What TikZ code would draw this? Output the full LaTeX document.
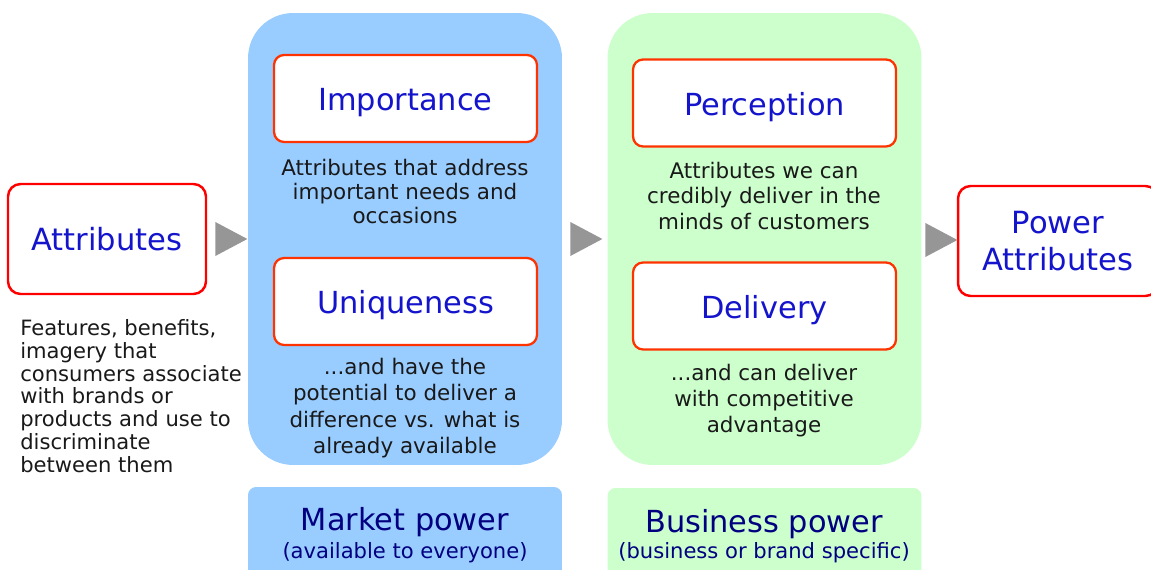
\documentclass[tikz,border=0pt]{standalone}
\usepackage{fontspec}
\setmainfont{DejaVu Sans}
\usetikzlibrary{shapes.geometric}
\definecolor{attrblue}{RGB}{20,20,204}
\definecolor{navyblue}{RGB}{0,0,128}
\definecolor{mktblue}{RGB}{153,204,255}
\definecolor{bizgreen}{RGB}{204,255,204}
\definecolor{boxred}{RGB}{255,51,0}
\definecolor{arrowgray}{RGB}{150,150,150}
\tikzset{
  attrbox/.style={draw=red, line width=1.4pt, rounded corners=.25cm, fill=white,
    minimum width=3.96cm, minimum height=2.2cm, text=attrblue, align=center,
    font=\fontsize{17.4}{21}\selectfont},
  keybox/.style={draw=boxred, line width=1.3pt, rounded corners=.2cm, fill=white,
    minimum width=5.26cm, minimum height=1.74cm, text=attrblue,
    text height=14pt, text depth=0pt, font=\fontsize{17.3}{20}\selectfont},
  panel/.style={rounded corners=.9cm, minimum width=6.28cm, minimum height=9.04cm},
  powerbox/.style={rounded corners=.16cm, minimum width=6.28cm, minimum height=1.96cm},
  note/.style={align=center, inner sep=0pt, text=black!90},
  flow/.style={isosceles triangle, isosceles triangle stretches, fill=arrowgray,
    inner sep=0pt, minimum width=.68cm, minimum height=.64cm, anchor=west},
  powertitle/.style={inner sep=0pt, text=navyblue, font=\fontsize{17.3}{20}\selectfont},
  powersub/.style={inner sep=0pt, text=navyblue, font=\fontsize{12}{14}\selectfont}
}
\begin{document}
\begin{tikzpicture}[x=.02cm, y=-.02cm]
\useasboundingbox (0,0) rectangle (1151,570);
% the two stages
\node[panel, fill=mktblue] (mkt) at (405,239){};
\node[panel, fill=bizgreen] (biz) at (764.5,239){};
% start and end
\node[attrbox] (attr) at (107,239){Attributes};
\node[note, anchor=west, align=left, font=\fontsize{12}{13}\selectfont] (attrnote) at (20,396)
  {Features, benefits,\\imagery that\\consumers associate\\with brands or\\products and use to\\discriminate\\between them};
\node[attrbox, minimum width=4cm] (power) at (1058,241){Power\\Attributes};
% market side
\node[keybox] (imp) at (405.5,98.5){Importance};
\node[note, font=\fontsize{12.2}{13.9}\selectfont] (impnote) at (405,191.5)
  {Attributes that address\\important needs and\\occasions};
\node[keybox] (uniq) at (405.5,301.5){Uniqueness};
\node[note, font=\fontsize{12.2}{15}\selectfont] (uniqnote) at (405,408)
  {...and have the\\potential to deliver a\\difference vs. what is\\already available};
% business side
\node[keybox] (perc) at (764.5,103){Perception};
\node[note, font=\fontsize{12.2}{14.6}\selectfont] (percnote) at (764,196)
  {Attributes we can\\credibly deliver in the\\minds of customers};
\node[keybox] (deliv) at (764.5,306){Delivery};
\node[note, font=\fontsize{12.2}{14.8}\selectfont] (delivnote) at (764,401)
  {...and can deliver\\with competitive\\advantage};
% arrows between the stages
\node[flow] (arr1) at (215,239){};
\node[flow] (arr2) at (570,239){};
\node[flow] (arr3) at (925,240){};
% bottom labels
\node[powerbox, fill=mktblue] (mktpower) at (405,536){};
\node[powertitle] (mkttitle) at (405,522){Market power};
\node[powersub] (mktsub) at (405,553){(available to everyone)};
\node[powerbox, fill=bizgreen] (bizpower) at (764.5,537){};
\node[powertitle] (biztitle) at (764,524){Business power};
\node[powersub] (bizsub) at (764,553){(business or brand specific)};
\end{tikzpicture}
\end{document}
